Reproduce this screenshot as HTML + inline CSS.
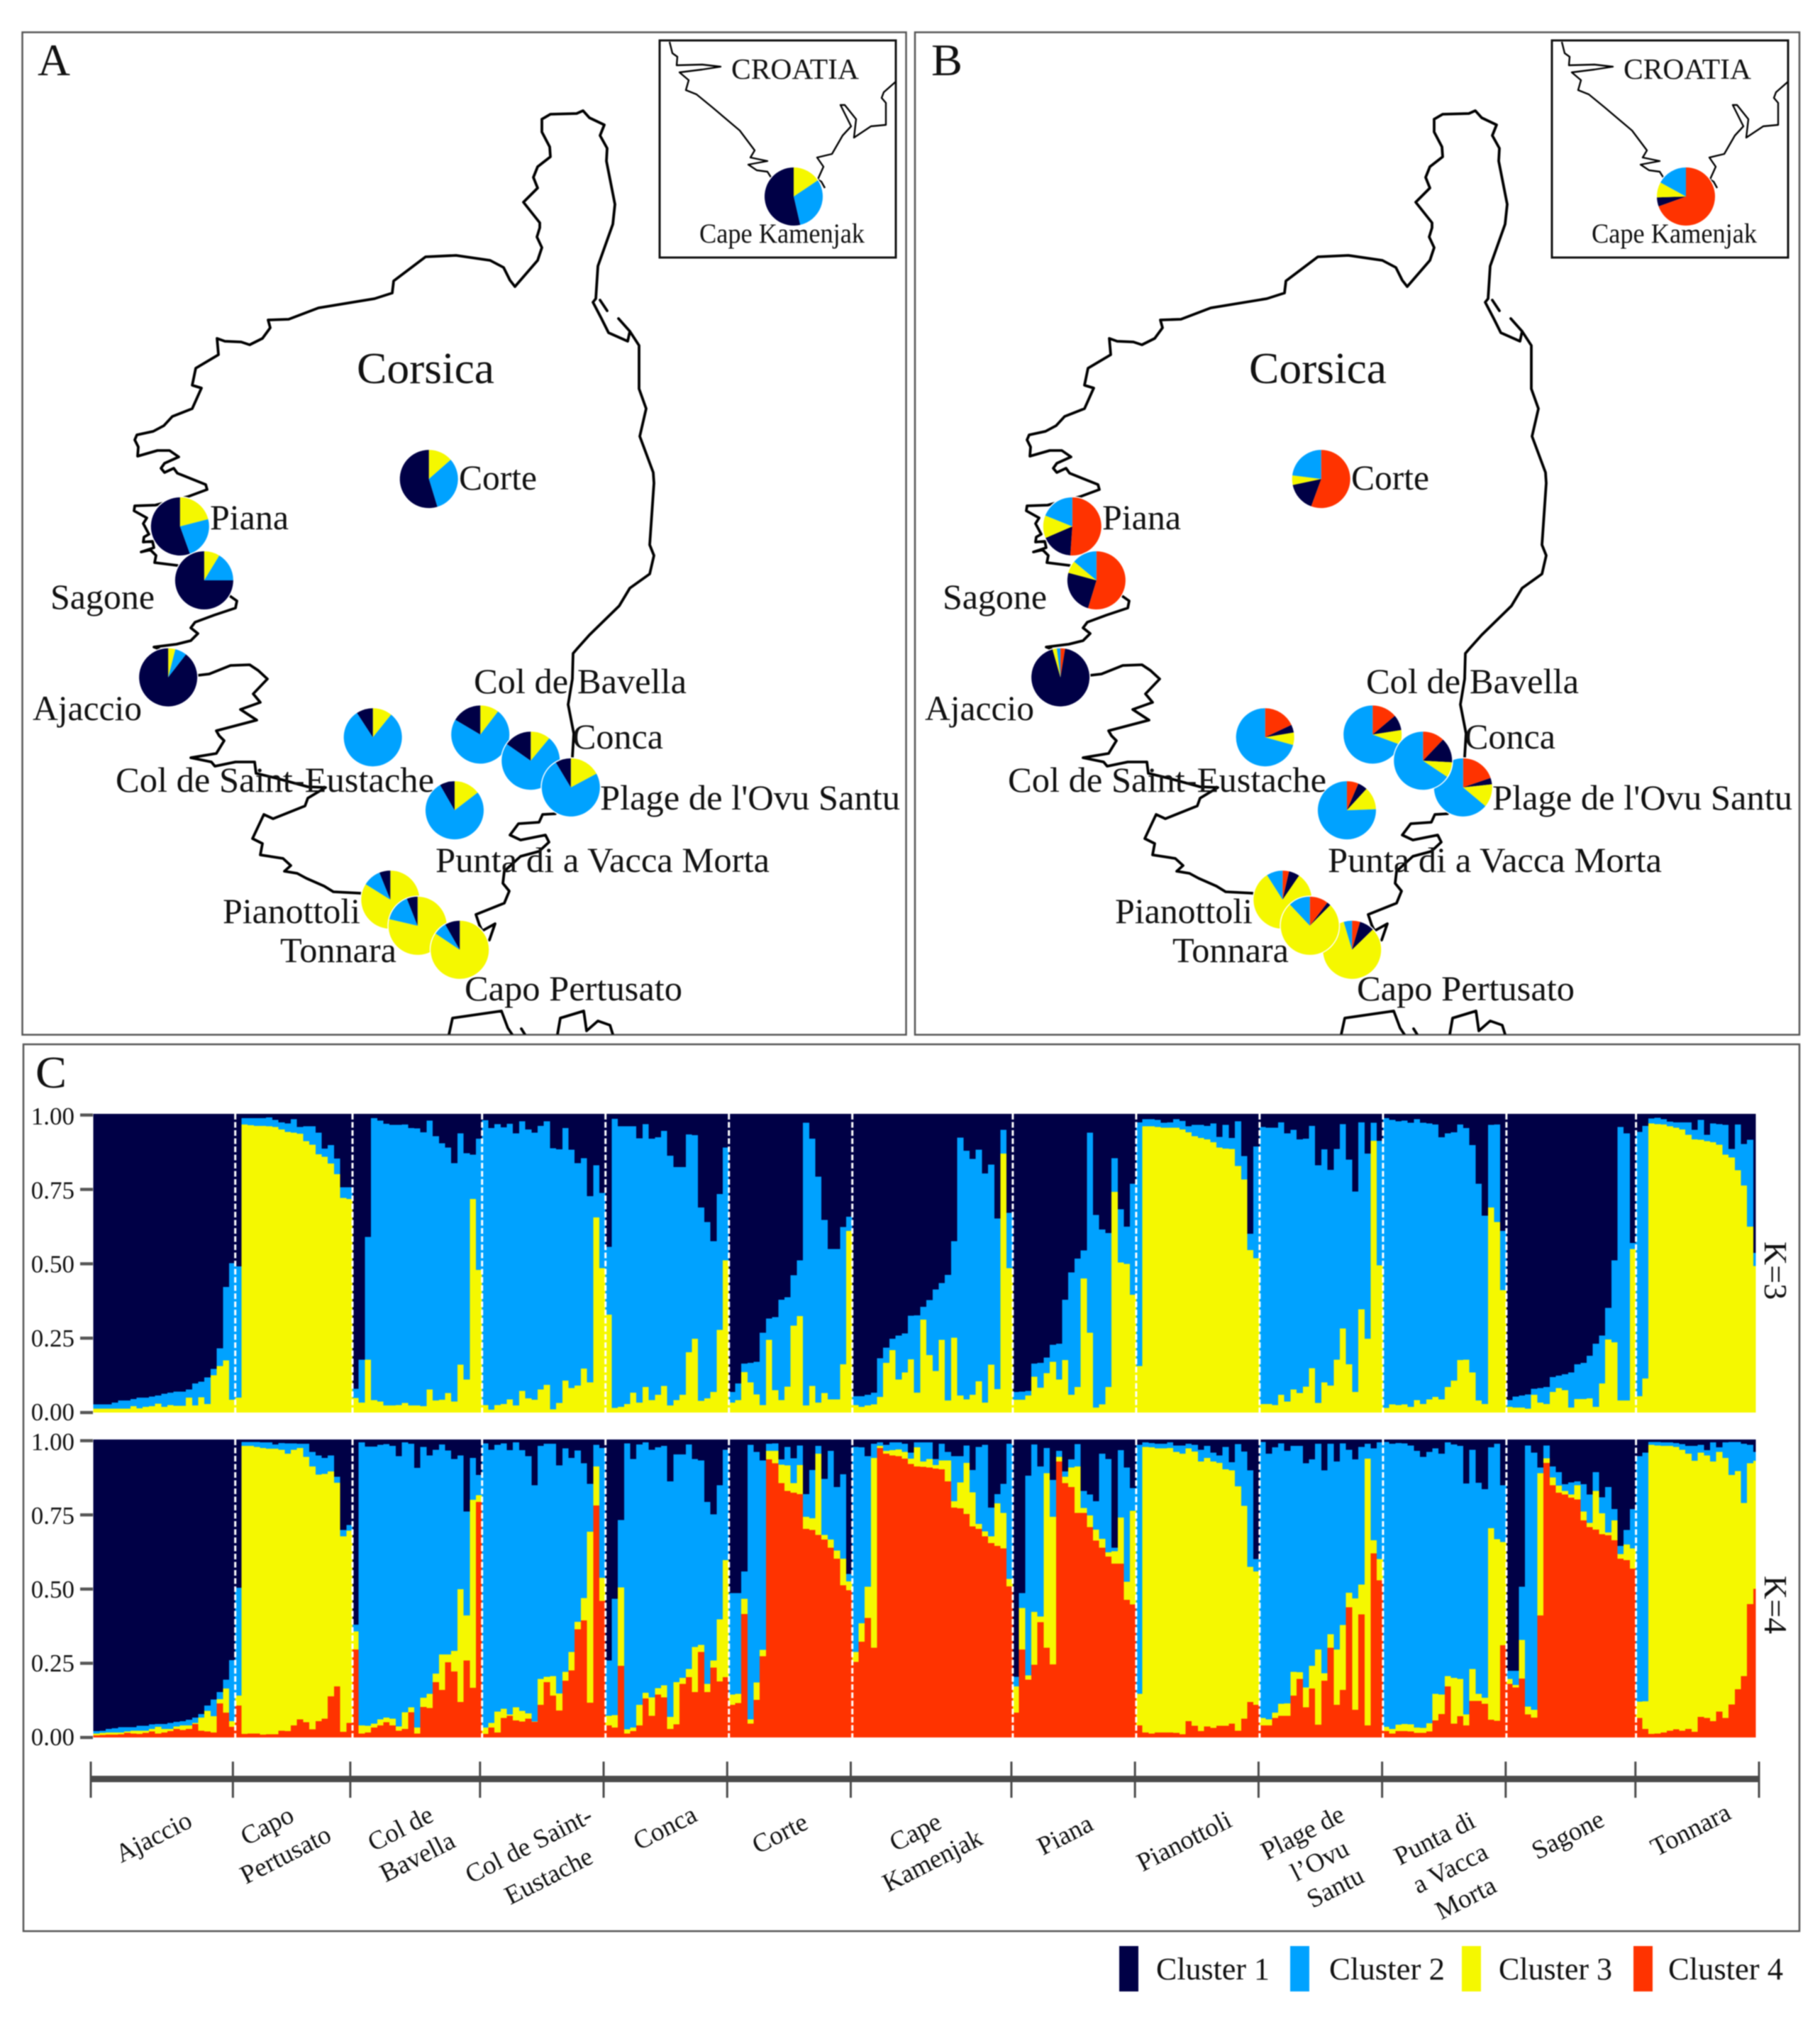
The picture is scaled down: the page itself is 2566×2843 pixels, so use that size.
<!DOCTYPE html>
<html lang="en">
<head>
<meta charset="utf-8">
<title>Corsica and Croatia population structure</title>
<style>
html,body{margin:0;padding:0;background:#fff;}
svg{display:block;filter:blur(0.7px);}
text{font-family:"Liberation Serif",serif;fill:#111;}
.lab{font-size:50px;}
.tl{font-size:37px;}
</style>
</head>
<body>
<svg id="fig" xmlns="http://www.w3.org/2000/svg" width="2566" height="2843" viewBox="0 0 2566 2843">
<defs>
<clipPath id="map-clip"><rect x="31" y="45" width="1246" height="1413"/></clipPath>
<clipPath id="inset-clip"><rect x="930" y="57" width="333" height="306"/></clipPath>
<g id="coast-shape">
<path clip-path="url(#map-clip)" fill="none" stroke="#000" stroke-width="3.8" stroke-linejoin="round" stroke-linecap="round" d="M764,168 776,161 813,160 822,156 831,166 852,176 846,191 856,209 855,227 867,288 864,316 843,375 840,421 836,426 848,449 858,469 885,481 888,467 M846,423 856,438 M872,449 888,467 901,487 901,548 911,576 902,615 921,666 922,681 916,768 922,783 916,809 888,829 873,854 831,895 814,914 808,921 807,957 801,993 809,1034 807,1067 805,1110 783,1147 765,1148 760,1159 731,1161 719,1177 734,1184 769,1177 774,1187 760,1200 734,1207 711,1228 709,1245 718,1256 711,1273 671,1289 676,1304 680,1312 698,1302 690,1325 648,1339 588,1305 508,1259 470,1257 457,1249 432,1238 419,1231 401,1228 410,1220 399,1210 367,1205 370,1189 356,1182 372,1148 385,1154 430,1136 434,1125 459,1110 434,1109 390,1097 361,1090 359,1074 332,1074 303,1080 298,1074 269,1068 305,1062 316,1044 309,1037 305,1030 362,1015 339,1000 367,990 357,978 377,957 364,945 352,937 325,938 295,950 278,952 237,955 225,915 217,912 249,908 269,903 279,893 269,885 275,877 302,867 332,857 334,847 324,840 288,818 250,797 218,793 220,783 212,775 199,778 217,772 215,763 202,764 203,757 210,753 202,738 207,730 189,720 190,713 219,712 265,700 292,690 290,683 250,667 245,660 232,666 227,660 232,653 252,644 239,635 222,635 194,643 195,630 190,620 193,613 216,608 231,600 243,587 271,576 284,547 271,543 276,519 308,500 306,477 317,481 340,482 352,486 370,477 381,462 378,451 407,450 449,434 528,421 553,413 555,396 600,362 643,360 691,367 710,377 719,395 726,404 758,367 764,349 757,334 761,321 761,314 738,285 758,265 752,250 758,235 776,221 775,207 764,186 764,168 M633,1458 638,1435 707,1425 716,1449 722,1458 M735,1450 740,1458 M786,1458 790,1435 823,1425 827,1453 843,1439 860,1445 864,1458"/>
<path clip-path="url(#inset-clip)" fill="none" stroke="#000" stroke-width="2.4" stroke-linejoin="round" d="M944,59 948,75 955,80 954,92 990,91 1016,94 990,98 958,102 971,113 967,127 982,133 1004,151 1043,184 1064,212 1058,222 1082,227 1055,232 1067,240 1082,242 1087,250 M1152,255 1161,235 1152,222 1173,217 1188,191 1200,178 1185,148 1191,148 1207,168 1204,194 1228,178 1249,176 1249,145 1243,138 1246,130 1263,115 M1148,250 1158,256 1163,265"/>
</g>
</defs>

<rect x="0" y="0" width="2566" height="2843" fill="#fff"/>
<rect x="31.5" y="45.5" width="1246" height="1413" fill="#fff" stroke="#555" stroke-width="2.5"/>
<rect x="1290" y="45.5" width="1247" height="1413" fill="#fff" stroke="#555" stroke-width="2.5"/>
<rect x="33" y="1472" width="2504" height="1250" fill="#fff" stroke="#555" stroke-width="2.5"/>
<rect x="930" y="57" width="333" height="306" fill="#fff" stroke="#111" stroke-width="3"/>
<rect x="2188" y="57" width="333" height="306" fill="#fff" stroke="#111" stroke-width="3"/>

<use href="#coast-shape"/>
<use href="#coast-shape" x="1258"/>

<g id="pies-a"></g>
<g id="pies-b"></g>

<g>
<text x="53" y="106" font-size="64" textLength="46" lengthAdjust="spacingAndGlyphs">A</text>
<text x="503" y="540" font-size="62" textLength="194" lengthAdjust="spacingAndGlyphs">Corsica</text>
<text x="1031" y="111" font-size="41" textLength="180" lengthAdjust="spacingAndGlyphs">CROATIA</text>
<text x="986" y="342" font-size="39" textLength="233" lengthAdjust="spacingAndGlyphs">Cape Kamenjak</text>
<text class="lab" x="647" y="690" textLength="110" lengthAdjust="spacingAndGlyphs">Corte</text>
<text class="lab" x="296" y="746" textLength="111" lengthAdjust="spacingAndGlyphs">Piana</text>
<text class="lab" x="71" y="858" textLength="147" lengthAdjust="spacingAndGlyphs">Sagone</text>
<text class="lab" x="46" y="1015" textLength="154" lengthAdjust="spacingAndGlyphs">Ajaccio</text>
<text class="lab" x="668" y="977" textLength="300" lengthAdjust="spacingAndGlyphs">Col de Bavella</text>
<text class="lab" x="807" y="1055" textLength="128" lengthAdjust="spacingAndGlyphs">Conca</text>
<text class="lab" x="846" y="1141" textLength="423" lengthAdjust="spacingAndGlyphs">Plage de l'Ovu Santu</text>
<text class="lab" x="163" y="1116" textLength="449" lengthAdjust="spacingAndGlyphs">Col de Saint-Eustache</text>
<text class="lab" x="614" y="1229" textLength="471" lengthAdjust="spacingAndGlyphs">Punta di a Vacca Morta</text>
<text class="lab" x="314" y="1301" textLength="194" lengthAdjust="spacingAndGlyphs">Pianottoli</text>
<text class="lab" x="395" y="1356" textLength="164" lengthAdjust="spacingAndGlyphs">Tonnara</text>
<text class="lab" x="655" y="1410" textLength="307" lengthAdjust="spacingAndGlyphs">Capo Pertusato</text>
</g>
<g>
<text x="1313" y="106" font-size="64" textLength="44" lengthAdjust="spacingAndGlyphs">B</text>
<text x="1761" y="540" font-size="62" textLength="194" lengthAdjust="spacingAndGlyphs">Corsica</text>
<text x="2289" y="111" font-size="41" textLength="180" lengthAdjust="spacingAndGlyphs">CROATIA</text>
<text x="2244" y="342" font-size="39" textLength="233" lengthAdjust="spacingAndGlyphs">Cape Kamenjak</text>
<text class="lab" x="1905" y="690" textLength="110" lengthAdjust="spacingAndGlyphs">Corte</text>
<text class="lab" x="1554" y="746" textLength="111" lengthAdjust="spacingAndGlyphs">Piana</text>
<text class="lab" x="1329" y="858" textLength="147" lengthAdjust="spacingAndGlyphs">Sagone</text>
<text class="lab" x="1304" y="1015" textLength="154" lengthAdjust="spacingAndGlyphs">Ajaccio</text>
<text class="lab" x="1926" y="977" textLength="300" lengthAdjust="spacingAndGlyphs">Col de Bavella</text>
<text class="lab" x="2065" y="1055" textLength="128" lengthAdjust="spacingAndGlyphs">Conca</text>
<text class="lab" x="2104" y="1141" textLength="423" lengthAdjust="spacingAndGlyphs">Plage de l'Ovu Santu</text>
<text class="lab" x="1421" y="1116" textLength="449" lengthAdjust="spacingAndGlyphs">Col de Saint-Eustache</text>
<text class="lab" x="1872" y="1229" textLength="471" lengthAdjust="spacingAndGlyphs">Punta di a Vacca Morta</text>
<text class="lab" x="1572" y="1301" textLength="194" lengthAdjust="spacingAndGlyphs">Pianottoli</text>
<text class="lab" x="1653" y="1356" textLength="164" lengthAdjust="spacingAndGlyphs">Tonnara</text>
<text class="lab" x="1913" y="1410" textLength="307" lengthAdjust="spacingAndGlyphs">Capo Pertusato</text>
</g>

<text x="50" y="1533" font-size="64" textLength="44" lengthAdjust="spacingAndGlyphs">C</text>
<g id="bars-k3"></g>
<g id="bars-k4"></g>
<g id="overlays"></g>
<g id="y-axes"></g>
<g id="x-axis"></g>

<text transform="translate(2488,1791) rotate(90)" text-anchor="middle" font-size="46">K=3</text>
<text transform="translate(2488,2262) rotate(90)" text-anchor="middle" font-size="46">K=4</text>

<g>
<text class="tl" text-anchor="middle" transform="translate(222,2600) rotate(-27)">Ajaccio</text>
<text class="tl" text-anchor="middle" transform="translate(382,2584) rotate(-27)">Capo</text>
<text class="tl" text-anchor="middle" transform="translate(408,2625) rotate(-27)">Pertusato</text>
<text class="tl" text-anchor="middle" transform="translate(570,2588) rotate(-27)">Col de</text>
<text class="tl" text-anchor="middle" transform="translate(594,2628) rotate(-27)">Bavella</text>
<text class="tl" text-anchor="middle" transform="translate(751,2611) rotate(-27)">Col de Saint-</text>
<text class="tl" text-anchor="middle" transform="translate(779,2655) rotate(-27)">Eustache</text>
<text class="tl" text-anchor="middle" transform="translate(943,2587) rotate(-27)">Conca</text>
<text class="tl" text-anchor="middle" transform="translate(1105,2595) rotate(-27)">Corte</text>
<text class="tl" text-anchor="middle" transform="translate(1296,2593) rotate(-27)">Cape</text>
<text class="tl" text-anchor="middle" transform="translate(1320,2633) rotate(-27)">Kamenjak</text>
<text class="tl" text-anchor="middle" transform="translate(1507,2597) rotate(-27)">Piana</text>
<text class="tl" text-anchor="middle" transform="translate(1675,2606) rotate(-27)">Pianottoli</text>
<text class="tl" text-anchor="middle" transform="translate(1842,2594) rotate(-27)">Plage de</text>
<text class="tl" text-anchor="middle" transform="translate(1866,2633) rotate(-27)">l’Ovu</text>
<text class="tl" text-anchor="middle" transform="translate(1888,2671) rotate(-27)">Santu</text>
<text class="tl" text-anchor="middle" transform="translate(2028,2602) rotate(-27)">Punta di</text>
<text class="tl" text-anchor="middle" transform="translate(2050,2644) rotate(-27)">a Vacca</text>
<text class="tl" text-anchor="middle" transform="translate(2072,2686) rotate(-27)">Morta</text>
<text class="tl" text-anchor="middle" transform="translate(2216,2597) rotate(-27)">Sagone</text>
<text class="tl" text-anchor="middle" transform="translate(2389,2590) rotate(-27)">Tonnara</text>
</g>

<g>
<rect x="1578" y="2743" width="27" height="64" fill="#000046"/>
<text x="1630" y="2790" font-size="44" textLength="160" lengthAdjust="spacingAndGlyphs">Cluster 1</text>
<rect x="1819" y="2743" width="27" height="64" fill="#00a2ff"/>
<text x="1874" y="2790" font-size="44" textLength="163" lengthAdjust="spacingAndGlyphs">Cluster 2</text>
<rect x="2061" y="2743" width="27" height="64" fill="#f5f800"/>
<text x="2113" y="2790" font-size="44" textLength="160" lengthAdjust="spacingAndGlyphs">Cluster 3</text>
<rect x="2303" y="2743" width="27" height="64" fill="#ff3300"/>
<text x="2352" y="2790" font-size="44" textLength="162" lengthAdjust="spacingAndGlyphs">Cluster 4</text>
</g>
</svg>

<script>
// ---------- Data: population sizes ----------
const groupSizes = [23,19,21,20,20,20,26,20,20,20,20,21,20];
const yTickLabels = ["0.00","0.25","0.50","0.75","1.00"];
const yTickValues = [0,25,50,75,100];

// ---------- Data: K=3 cumulative stack tops (percent); the rest up to 100 is Cluster 1 ----------
const k3YellowTop = [
1.3,1.3,1.3,1.3,1.3,1.3,2.1,1.4,1.9,2.1,3,1.9,2.5,2.3,2.3,5,2.4,5.1,2.9,12.5,15.6,17.4,4.3,
5,96.4,96.2,96,96,95.9,95.6,94.8,94,93.7,93.3,90.9,89.7,86.5,85.6,83.4,79.8,71.9,71.5,
4.9,3.3,17.7,4.1,3.7,2.4,2.4,2.5,3.2,2.4,2.4,2.1,7.7,4,4.3,6.5,3.7,16,11.1,71.5,47.7,
2.5,1,2.5,2.9,4.4,2.4,7.3,4.8,4.3,7.7,9.3,1.1,3.2,10.7,8.2,9,14.7,10.1,65.3,48.3,
32.8,1.6,1.9,2.9,6.7,3.3,8.6,4.1,5.9,8.9,2.4,4.1,5.9,20.2,24.7,3.9,4.7,6.9,27.7,51,
3.3,4.1,13.5,10.1,6.1,2.5,24.3,7.5,4.1,8.7,29.1,32.3,2.4,8.9,3.3,6.5,4.4,4.4,16.2,60.8,
2.5,1.9,2.4,2.7,5.2,16.6,20.9,11.1,13.4,17.8,6.7,31.1,19.2,13.9,24.3,4,25.1,5.7,4.4,5.9,10.5,3.3,16,7.8,86.7,48.3,
4.3,4.3,5.7,12,8.3,13.2,17,11,17.6,5.9,8.6,44.9,26.7,1.7,2.7,8.6,73.9,50.2,49.8,39.4,
15.6,95.9,95.9,95.6,95.4,95.4,95.4,94.8,93.8,92.5,91.9,91.5,90.5,88.7,88.4,88.2,82.6,78,54.4,51.7,
2.9,2.8,2.5,5.9,3.7,7.7,6.5,8.7,14.8,3.2,10.1,9,17.7,28.1,16.2,6.9,34.6,24.7,91,49.3,
1.6,2.7,2.5,2.7,1.9,4.1,2.9,4.4,5.2,4.4,8.5,10.7,17.6,17.7,13.4,4,2.9,68.7,63.8,41,
1.9,1.7,1.7,1.3,5.9,3.3,2.9,6.9,8.2,7.5,1.7,4.5,4.5,4.7,1.9,9.7,24.5,23.5,4,4,54.8,
5.5,11.4,96.8,96.6,96.4,95.9,95.4,94.8,93,91.5,91.3,90.9,90.5,89.7,86.3,85.4,81.1,76,62.2,49
];
const k3BlueTop = [
2.7,2.7,2.7,3.3,4,4,4.5,5,5,5.3,5.7,6.3,6.6,7,7,7.7,9.7,10.3,11.7,14.6,21.5,42,50,
48.9,98.6,98.6,98.6,98.6,98.8,98,97.2,96.8,98.2,95.6,95.9,95.9,93.7,88.4,89.5,85,75.4,75.4,
7.9,17.7,58.8,98.6,97.8,96.7,96.3,96.3,96.4,95.2,95.1,93.8,97.8,92.5,90.1,88.7,83.5,93.5,86.8,86.4,91.7,
97.9,95.2,96.6,95.5,96.7,93.5,97.5,94.8,93.7,96,97.5,88.5,88.1,95.2,88,83.5,85.2,72.5,82.8,73.5,
55.5,98.3,95.9,95.9,95.9,91.8,96.6,91.7,92.2,94.3,86,82.2,82.2,93.1,92.9,68.7,63.8,57.4,73.1,88.7,
6.9,9.7,16.4,16.6,17,26.7,31.5,31.9,37.8,38.6,46,50.9,97,91.7,79,64.5,54.8,54.7,62.1,65.5,
5.5,5.5,5.9,6.7,18.2,21.7,24.7,25.8,26.5,32.4,32.6,35.4,37.6,41.2,43.3,46.1,57.4,92.1,87.7,84.9,88,80,83,65,94.6,66.9,
6.9,7,7.3,16.4,16.6,18.4,22.7,23,37.8,46.9,51.5,54.3,93.7,66.2,61.3,60.1,85.1,68.1,62.2,76.6,
97.2,98.2,98.2,98,97,97.2,98.2,97.6,95.9,96.3,96.3,96,96.8,92.3,96.3,91.9,97.5,85.9,59.8,89.1,
95.6,95.4,95.4,97.2,93.5,94.6,91.5,91.7,96,82.8,88.1,81.2,88.3,96.6,84.7,74,97.2,86.7,97,91,
98.6,98,97.5,97.8,97,98.2,97,96.8,96.4,92.2,93.5,93.8,96.4,95.2,89.5,76.6,65.9,96.3,96.4,60.8,
4.1,5.3,5.7,6.1,7.9,8.2,8.6,11.9,12.3,12.8,13.4,16.2,16.6,19,23,25.8,35,51,95.6,93.5,56.8,
94,96,98.4,98.7,98.2,97.4,97.2,97.2,97.2,94.6,98,93,96.8,96.6,96.3,88.3,96.4,89.9,91.3,53.4
];

// ---------- Data: K=4 cumulative stack tops (percent) ----------
const k4RedTop = [
.7,.8,1,1,1.1,1.5,1.3,1.2,1.5,2,1.3,1.7,2.1,2.9,2.5,2.9,4.5,2.3,2,1.7,11.4,8.3,3.6,
10.7,1.2,1.3,1.3,1,1.1,1.1,2.3,2.2,4.1,6.1,5.1,2.7,5.5,6.3,13.8,17.2,1.9,4.9,
29.5,1.3,1.7,3.3,4.1,5.1,4,2.3,2.8,8.5,1.3,10.2,9.9,18.6,16,25.2,22.1,11.9,25.8,16.7,79.1,
1.2,3.3,1.7,6.5,7.3,5.7,5.3,6.3,5.2,11,18.6,14,9.1,19,22.5,36.3,39.3,11.7,77.9,45.8,
4,3.3,24,1.3,2.1,4.1,13.1,7.3,14.4,13.4,2.9,4.4,18,20.2,15.2,28.7,15.2,23.4,18.8,20.2,
11,11.5,41.4,4.7,12.6,27.3,93.3,92,85.3,82.7,82.1,81.7,70,69.6,68,66.4,63.7,60,51.1,49.4,
25.4,32.1,40.1,30.1,97.2,95.2,94.6,94.4,93.6,91.8,91,90.8,90.6,90.2,90,85.9,77.1,76.9,75,70.8,70,67.5,65.2,64.3,63.4,50.7,
8.3,29.5,19.4,24.4,38.7,30.1,24.5,92.6,85.3,84,75.4,75.4,70.6,66.1,63.7,60.7,58.3,58.3,46.2,44.6,
4,1.7,1.3,1.7,1.7,1.7,1.5,1.1,5.5,3.9,2.1,3.7,3.2,3.9,3.9,4.7,2.3,6.3,11.9,11,
4.1,4.1,6.5,7.3,7.3,14,19.6,10.1,16.4,4.3,19,30.1,11,16,43.7,9.3,41.3,4.1,61.8,52.7,
2.1,1.3,2.1,2.1,2,1.5,1.5,2,5.7,7.9,17.2,4.7,7.1,4.1,12.3,12.3,11.3,6,5.6,31,
18,16.8,19.8,7.7,6.7,40.9,92.1,84.7,82.1,81.5,80.5,79.9,72.9,70.6,69.8,68.2,67.8,66.2,60,59.5,56.7,
6.5,2.9,1.2,1.3,1.7,2.3,2.7,2.3,2.8,1.9,6.9,6.5,5.5,8.7,6.5,11.1,16.2,20.6,44.8,49.9
];
const k4YellowTop = [
1.3,1.5,1.7,1.7,1.7,2,2.3,2.3,2.3,2.8,3.6,2.9,2.9,3.7,4,4.1,4.9,6.7,8.9,7.1,12.9,16.4,5.5,
14,97.9,97.8,97.5,97.1,96.9,96.9,96.6,95.2,96.6,97.2,94.2,91,88.2,88.4,89.3,85.5,67.5,69.4,
35.6,4.1,3.9,4.7,6.1,6.7,6.3,3.7,8.5,10.1,3.3,13.3,14.6,21.4,27.8,27.8,29.1,49.8,40.9,79.8,81.3,
3.3,4.9,8.7,9.7,7.7,10.1,8.9,8.1,5.3,19.6,20.4,20.6,14.8,22,28.7,38.8,46.8,69,90.9,53.6,
7.3,7.5,50.4,2.7,3.3,10.9,15,13.4,16.6,17.5,6.9,18.6,20,23,30.3,31.1,18,25.8,39.6,59.5,
14.4,14.7,46.6,6.1,18.4,29.4,96.2,96.2,91.6,91.3,85.3,91.4,74,73.6,95.2,68,66.4,62.7,60,52.4,
28.7,38.3,50.6,93.8,97.9,96.2,96.4,96.7,95.8,93.6,97.4,92.6,93.4,91.4,93,93,79.3,85.6,92.2,82.3,71.7,69.2,67.5,78.6,75.4,53.2,
17.2,43.4,20.8,42.2,40.6,88.7,74,94.2,87.5,90.6,91,77,74.5,69.8,66.7,62.2,62.5,73.8,52.3,76.1,
14.7,97.5,97.4,97,97,97.2,95.8,95.2,97,96,92.6,93.8,92.6,92.2,90,89.7,84.3,77.7,57.3,55.7,
6.5,6.1,8.3,11.3,11.4,22,21.9,16.8,24,29.5,21.6,34.7,29.5,37.7,48.6,46.7,51.3,93.6,66.2,59.9,
3.6,2.8,4.3,4.5,4.4,3.3,3.2,4.8,14.7,14.4,20.6,20,19.6,7.7,23,14.7,13.3,70.2,66.6,65.6,
19.6,17.6,32.7,10.3,9.3,88.7,93.7,87.3,84.5,82.7,81.5,84.7,75.8,72,82.7,75.2,68.8,72.9,61.5,64.8,63.4,
12,12.1,98.2,98,97.9,97.8,97.5,96.6,95.2,92.9,95.6,94.6,92.6,95.8,93.8,88.1,89.4,78.7,92,92.8
];
const k4BlueTop = [
2.1,2.3,2.8,3.1,3.5,3.5,3.5,3.9,3.9,4.4,4.5,4.5,4.9,5.2,5.5,6,6.7,7.9,10.7,12.7,15.2,19.4,26,
50.2,99.2,99.2,99.2,99,99,98.3,98.8,98.7,98.7,98.6,98.6,95.8,94.6,93.8,94.6,87.5,69.6,71.3,
37.9,99,97.6,97.6,98.2,98.4,97.8,94.4,99,98.6,90.5,97.5,94.6,96.6,98.3,96.3,93.4,94.6,75.8,93.8,88.1,
98.7,96.6,98.2,98.7,96.4,99,96.4,94.4,84.7,97.8,98.6,98.6,91.3,97,93.8,96.3,92,85.1,98.2,97.2,
25.8,46.6,73,98.7,93.4,98.3,99,96.6,97.4,97.8,86,95,95,98.3,93.4,93,79,74.9,84.7,96.6,
48.4,48.4,55.7,98.2,95.8,93,98.6,98.7,93.3,97.5,93.7,98,81.7,89.8,97.9,86.8,96.2,84,88.3,54.9,
97.5,97.4,94.4,98.6,99,98.2,99,99,98.6,95.6,99,99,99.1,93.4,98.6,95.8,94.4,94.4,98,89.8,97.5,98.2,77.1,81.7,85.1,98.6,
20.4,48.4,87.9,98.3,91,97.2,86.4,96.2,89.3,93.3,98.4,82.7,81.5,79.3,95.2,93.4,63.7,96.4,90.6,83.7,
98.2,99,98.8,98.6,98.6,99,98,98,98.6,98.2,96.6,97.9,95.6,94.6,97.5,92.4,98.4,96,89.6,59.9,
99.2,95.2,97.4,98.7,96.2,97.9,97.9,92,93.3,98.6,89.6,98.6,92.6,98.7,96.6,93.3,97.5,98.6,97,99,
99.2,98.6,98.8,98.7,98,96.2,94.2,95.8,97,95.2,99,98.3,97.8,85.2,96.6,85.5,83.3,97.4,98.6,84.7,
22.4,22.4,50.6,98,95.6,90.6,98,91,89,85,85.6,85.9,85,81.5,89,80.6,84,76.7,64.3,69.6,76.7,
94.4,95.6,99.2,99.2,99,99,98.8,98.4,97.8,97.8,98.2,96.4,99,97.4,99,99.2,99.2,98.6,98.2,95.8
];

// ---------- Data: sampling sites (longitude, latitude) ----------
const siteNames = ["Piana","Sagone","Ajaccio","Corte","Col de Saint-Eustache","Col de Bavella","Conca","Plage de l'Ovu Santu","Punta di a Vacca Morta","Pianottoli","Tonnara","Capo Pertusato"];
const siteLon = [8.638,8.685,8.615,9.122,9.013,9.222,9.320,9.398,9.172,9.047,9.100,9.182];
const siteLat = [42.237,42.138,41.960,42.324,41.850,41.855,41.807,41.758,41.716,41.552,41.504,41.460];

// ---------- Data: panel A pie shares ----------
const pieAYellow = [.21,.087,.04,.135,.108,.104,.11,.172,.146,.839,.787,.844];
const pieABlue = [.235,.163,.065,.318,.80,.731,.737,.742,.771,.10,.153,.073];
const pieADark = [.555,.75,.895,.547,.092,.165,.153,.086,.083,.061,.06,.083];

// ---------- Data: panel B pie shares ----------
const pieBRed = [.511,.547,.026,.556,.18,.139,.121,.197,.065,.036,.103,.045];
const pieBDark = [.174,.245,.93,.161,.044,.086,.138,.036,.053,.06,.021,.082];
const pieBYellow = [.126,.069,.024,.053,.069,.081,.085,.128,.126,.814,.756,.827];
const pieBBlue = [.189,.139,.02,.23,.707,.694,.656,.639,.756,.09,.12,.046];

// ---------- Data: Cape Kamenjak inset pie shares ----------
const kamenjakA = [.156,.308,.536];
const kamenjakB = [.695,.05,.085,.17];

const NS = "http://www.w3.org/2000/svg";
const COLORS = {dark:"#000046", blue:"#00a2ff", yellow:"#f5f800", red:"#ff3300"};

// ---------- Scales ----------
const PLOT_LEFT = 131.6, PLOT_RIGHT = 2475.5, BAR_STEP = 8.7;
function xBar(i){ return Math.min(PLOT_LEFT + i * BAR_STEP, PLOT_RIGHT); }
function xAxisPos(k){ const total = groupSizes.reduce(function(a,b){return a+b;},0); return 128 + k / total * 2352; }
function yK3(v){ return 1991 - v / 100 * 421; }
function yK4(v){ return 2449 - v / 100 * 420; }
function mapX(lon){ return 190 + (lon - 8.55) * 725; }
function mapY(lat){ return 156 + (43.0 - lat) * 768; }

// ---------- Stacked bars ----------
function drawStack(parent, panelName, yScale, layers){
  const n = layers[0].tops.length;
  for (let i = 0; i < n; i++){
    let prevTop = 0;
    const x0 = xBar(i), x1 = xBar(i + 1);
    for (let l = 0; l <= layers.length; l++){
      const top = l < layers.length ? layers[l].tops[i] : 100;
      const color = l < layers.length ? layers[l].color : COLORS.dark;
      const cluster = l < layers.length ? layers[l].name : "cluster-1";
      if (top <= prevTop) continue;
      const r = document.createElementNS(NS, "rect");
      r.setAttribute("x", x0);
      r.setAttribute("width", Math.max(0, x1 - x0));
      r.setAttribute("y", yScale(top));
      r.setAttribute("height", yScale(prevTop) - yScale(top));
      r.setAttribute("fill", color);
      r.setAttribute("shape-rendering", "crispEdges");
      
      
      parent.appendChild(r);
      prevTop = top;
    }
  }
}
drawStack(document.getElementById("bars-k3"), "k3", yK3, [
  {tops:k3YellowTop, color:COLORS.yellow, name:"cluster-3"},
  {tops:k3BlueTop, color:COLORS.blue, name:"cluster-2"}
]);
drawStack(document.getElementById("bars-k4"), "k4", yK4, [
  {tops:k4RedTop, color:COLORS.red, name:"cluster-4"},
  {tops:k4YellowTop, color:COLORS.yellow, name:"cluster-3"},
  {tops:k4BlueTop, color:COLORS.blue, name:"cluster-2"}
]);

// ---------- Dividers and x axis ----------
(function(){
  const overlays = document.getElementById("overlays");
  const axis = document.getElementById("x-axis");
  const line = document.createElementNS(NS, "rect");
  line.setAttribute("x", xAxisPos(0));
  line.setAttribute("y", 2503);
  line.setAttribute("width", xAxisPos(270) - xAxisPos(0));
  line.setAttribute("height", 9);
  line.setAttribute("fill", "#4a4a4a");
  
  
  axis.appendChild(line);
  let cum = 0;
  for (let g = 0; g <= groupSizes.length; g++){
    const tick = document.createElementNS(NS, "rect");
    tick.setAttribute("x", xAxisPos(cum) - 1.5);
    tick.setAttribute("y", 2483);
    tick.setAttribute("width", 3);
    tick.setAttribute("height", 51);
    tick.setAttribute("fill", "#4a4a4a");
    
    
    axis.appendChild(tick);
    if (g > 0 && g < groupSizes.length){
      [[yK3(100), yK3(0)], [yK4(100), yK4(0)]].forEach(function(span){
        const d = document.createElementNS(NS, "line");
        d.setAttribute("x1", xBar(cum));
        d.setAttribute("x2", xBar(cum));
        d.setAttribute("y1", span[0]);
        d.setAttribute("y2", span[1]);
        d.setAttribute("stroke", "#fff");
        d.setAttribute("stroke-width", 3);
        d.setAttribute("stroke-dasharray", "8 3.5");
        
        
        overlays.appendChild(d);
      });
    }
    if (g < groupSizes.length) cum += groupSizes[g];
  }
})();

// ---------- Y axes ----------
[yK3, yK4].forEach(function(scale){
  const parent = document.getElementById("y-axes");
  yTickValues.forEach(function(v, i){
    const tickY = scale(v * 0.996);
    const labelY = scale(v * 0.99);
    const t = document.createElementNS(NS, "rect");
    t.setAttribute("x", 113);
    t.setAttribute("y", tickY - 2.2);
    t.setAttribute("width", 18);
    t.setAttribute("height", 4.4);
    t.setAttribute("fill", "#555");
    
    
    parent.appendChild(t);
    const lab = document.createElementNS(NS, "text");
    lab.setAttribute("x", 105);
    lab.setAttribute("y", labelY + 11);
    lab.setAttribute("text-anchor", "end");
    lab.setAttribute("font-size", 35);
    lab.textContent = yTickLabels[i];
    
    
    parent.appendChild(lab);
  });
});

// ---------- Pies ----------
function drawPie(parent, cx, cy, r, shares, colors, name){
  const g = document.createElementNS(NS, "g");
  
  
  const halo = document.createElementNS(NS, "circle");
  halo.setAttribute("cx", cx);
  halo.setAttribute("cy", cy);
  halo.setAttribute("r", r + 1.5);
  halo.setAttribute("fill", "#fff");
  g.appendChild(halo);
  const sum = shares.reduce(function(a,b){return a+b;},0);
  let acc = 0;
  shares.forEach(function(s, i){
    const a0 = acc / sum * 2 * Math.PI;
    acc += s;
    const a1 = acc / sum * 2 * Math.PI;
    const large = (a1 - a0) > Math.PI ? 1 : 0;
    const x0 = cx + r * Math.sin(a0), y0 = cy - r * Math.cos(a0);
    const x1 = cx + r * Math.sin(a1), y1 = cy - r * Math.cos(a1);
    const p = document.createElementNS(NS, "path");
    p.setAttribute("d", "M" + cx + "," + cy + " L" + x0 + "," + y0 + " A" + r + "," + r + " 0 " + large + " 1 " + x1 + "," + y1 + " Z");
    p.setAttribute("fill", colors[i]);
    
    
    g.appendChild(p);
  });
  parent.appendChild(g);
}
function slug(s){ return s.toLowerCase().replace(/[^a-z]+/g, "-"); }

const orderA = [0,1,2,3,4,5,6,7,8,9,10,11];
const orderB = [0,1,2,3,4,5,7,6,8,9,11,10];
const OFFSET_B = 1258;
const PIE_R = 41;
orderA.forEach(function(i){
  drawPie(document.getElementById("pies-a"), mapX(siteLon[i]), mapY(siteLat[i]), PIE_R,
    [pieAYellow[i], pieABlue[i], pieADark[i]], [COLORS.yellow, COLORS.blue, COLORS.dark], "pie-a-" + slug(siteNames[i]));
});
orderB.forEach(function(i){
  drawPie(document.getElementById("pies-b"), mapX(siteLon[i]) + OFFSET_B, mapY(siteLat[i]), PIE_R,
    [pieBRed[i], pieBDark[i], pieBYellow[i], pieBBlue[i]], [COLORS.red, COLORS.dark, COLORS.yellow, COLORS.blue], "pie-b-" + slug(siteNames[i]));
});
drawPie(document.getElementById("pies-a"), 1119, 277, PIE_R, kamenjakA, [COLORS.yellow, COLORS.blue, COLORS.dark], "pie-a-cape-kamenjak");
drawPie(document.getElementById("pies-b"), 1119 + OFFSET_B, 277, PIE_R, kamenjakB, [COLORS.red, COLORS.dark, COLORS.yellow, COLORS.blue], "pie-b-cape-kamenjak");
</script>
</body>
</html>
